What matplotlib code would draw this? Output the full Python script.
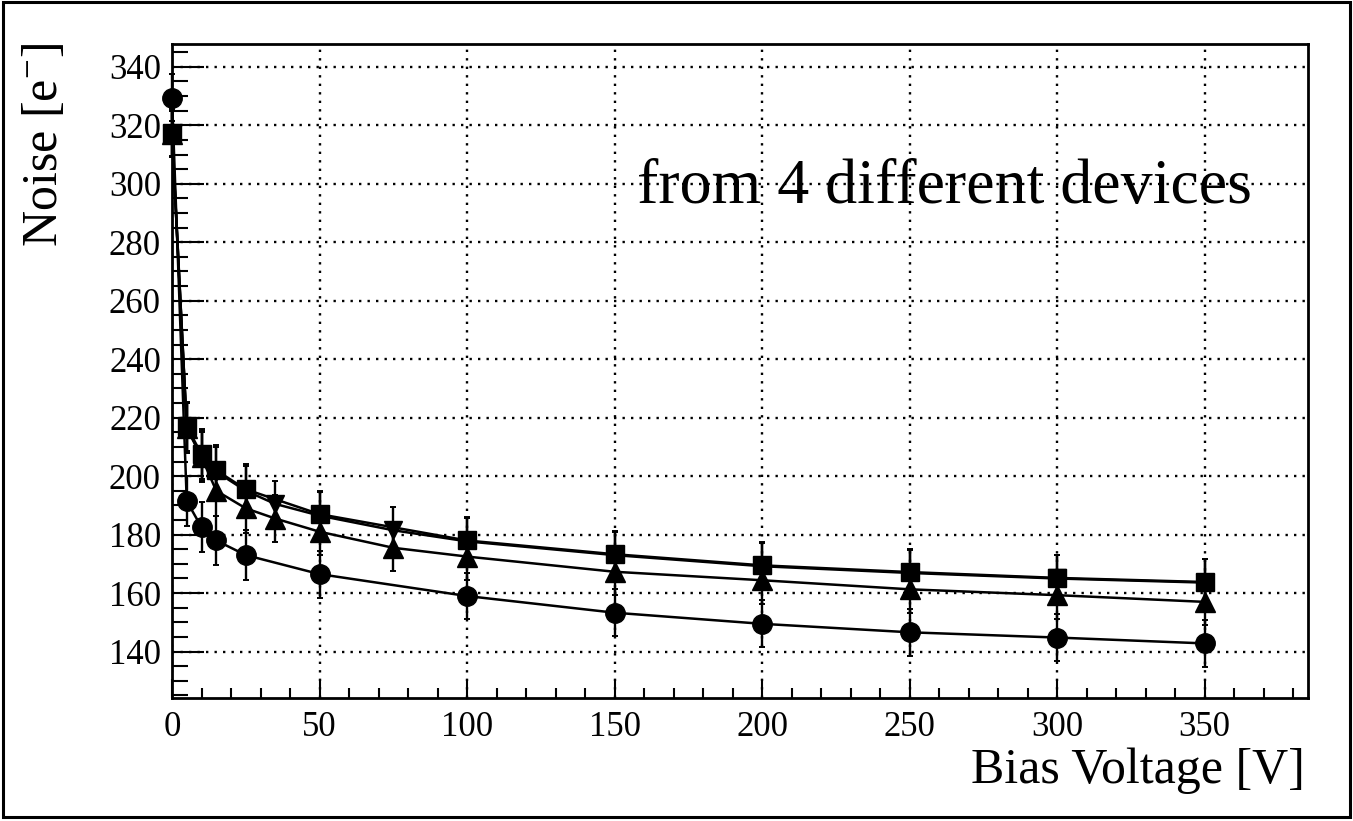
import matplotlib
matplotlib.use("Agg")
import matplotlib.pyplot as plt
from matplotlib.patches import Rectangle
from matplotlib.ticker import MultipleLocator

plt.rcParams.update({
    "font.family": "Liberation Serif",
    "mathtext.fontset": "custom",
    "mathtext.rm": "Liberation Serif",
    "mathtext.it": "Liberation Serif:italic",
})

# bias voltage points [V]
volt_a = [0, 5, 10, 15, 25, 50, 100, 150, 200, 250, 300, 350]
volt_b = [0, 5, 10, 15, 25, 35, 50, 75, 100, 150, 200, 250, 300, 350]

# noise [e-] per device
noise_circle = [329.5, 191.5, 182.5, 178, 173, 166.5, 159, 153.3, 149.5, 146.6, 144.8, 142.8]
noise_square = [317.5, 217, 207.5, 202, 195.5, 187, 178, 173.3, 169.5, 167.2, 165.2, 163.8]
noise_uptri = [317, 216.5, 206.5, 195, 189, 185.5, 181, 175.5, 172.5, 167.3, 164.4, 161.3, 159.3, 157]
noise_dntri = [317, 216.5, 207, 201.5, 195, 190.5, 186.5, 181.5, 177.7, 173, 169.2, 166.9, 165, 163.6]

err_a = [8, 8.5, 8.5, 8.5, 8.5, 8, 8, 8, 8, 8, 8, 8]
err_b = [8, 8.5, 8.5, 8.5, 8.5, 8, 8, 8, 8, 8, 8, 8, 8, 8]

series = [
    (volt_a, noise_circle, err_a, "o", 14.0),
    (volt_b, noise_uptri, err_b, "^", 15.0),
    (volt_b, noise_dntri, err_b, "v", 13.5),
    (volt_a, noise_square, err_a, "s", 13.0),
]

fig = plt.figure(figsize=(13.53, 8.21), dpi=100)
ax = fig.add_axes([172 / 1353, 1 - 697.5 / 821, (1308 - 172) / 1353, (697.5 - 44) / 821])

for x, y, e, m, ms in series:
    cont = ax.errorbar(x, y, yerr=e, fmt="-", marker=m, ms=ms, color="black", mfc="black",
                       mec="black", lw=1.8, elinewidth=1.7, capsize=2.5, capthick=1.4, zorder=3)
    for art in cont.get_children():
        art.set_clip_on(False)

ax.set_xlim(0, 385)
ax.set_ylim(124.3, 347.8)
ax.xaxis.set_major_locator(MultipleLocator(50))
ax.xaxis.set_minor_locator(MultipleLocator(10))
ax.yaxis.set_major_locator(MultipleLocator(20))
ax.yaxis.set_minor_locator(MultipleLocator(5))
ax.set_yticks(range(140, 341, 20))

ax.grid(True, which="major", color="black", lw=1.7, linestyle=(0, (1, 2.6)))

ax.tick_params(axis="both", which="both", direction="in", top=False, right=False,
               labelsize=25, width=1.5, color="black")
ax.tick_params(axis="y", which="major", length=23, pad=8)
ax.tick_params(axis="y", which="minor", length=11.5)
ax.tick_params(axis="x", which="major", length=14, pad=10)
ax.tick_params(axis="x", which="minor", length=7)
for sp in ax.spines.values():
    sp.set_linewidth(2.0)

fig.text(1305 / 1353, 1 - 783 / 821, "Bias Voltage [V]", ha="right", va="baseline", fontsize=36)
fig.text(45 / 1353, 1 - 43 / 821, r"Noise [$\mathrm{e}^{-}$]", rotation=90, ha="center", va="top",
         fontsize=36)
fig.text(637 / 1353, 1 - 203 / 821, "from 4 different devices", ha="left", va="baseline", fontsize=46)

fig.add_artist(Rectangle((3 / 1353, 1 - 817 / 821), 1347 / 1353, 815 / 821,
                         transform=fig.transFigure, fill=False, lw=2.2, ec="black"))

fig.savefig("out.png", dpi=100)
